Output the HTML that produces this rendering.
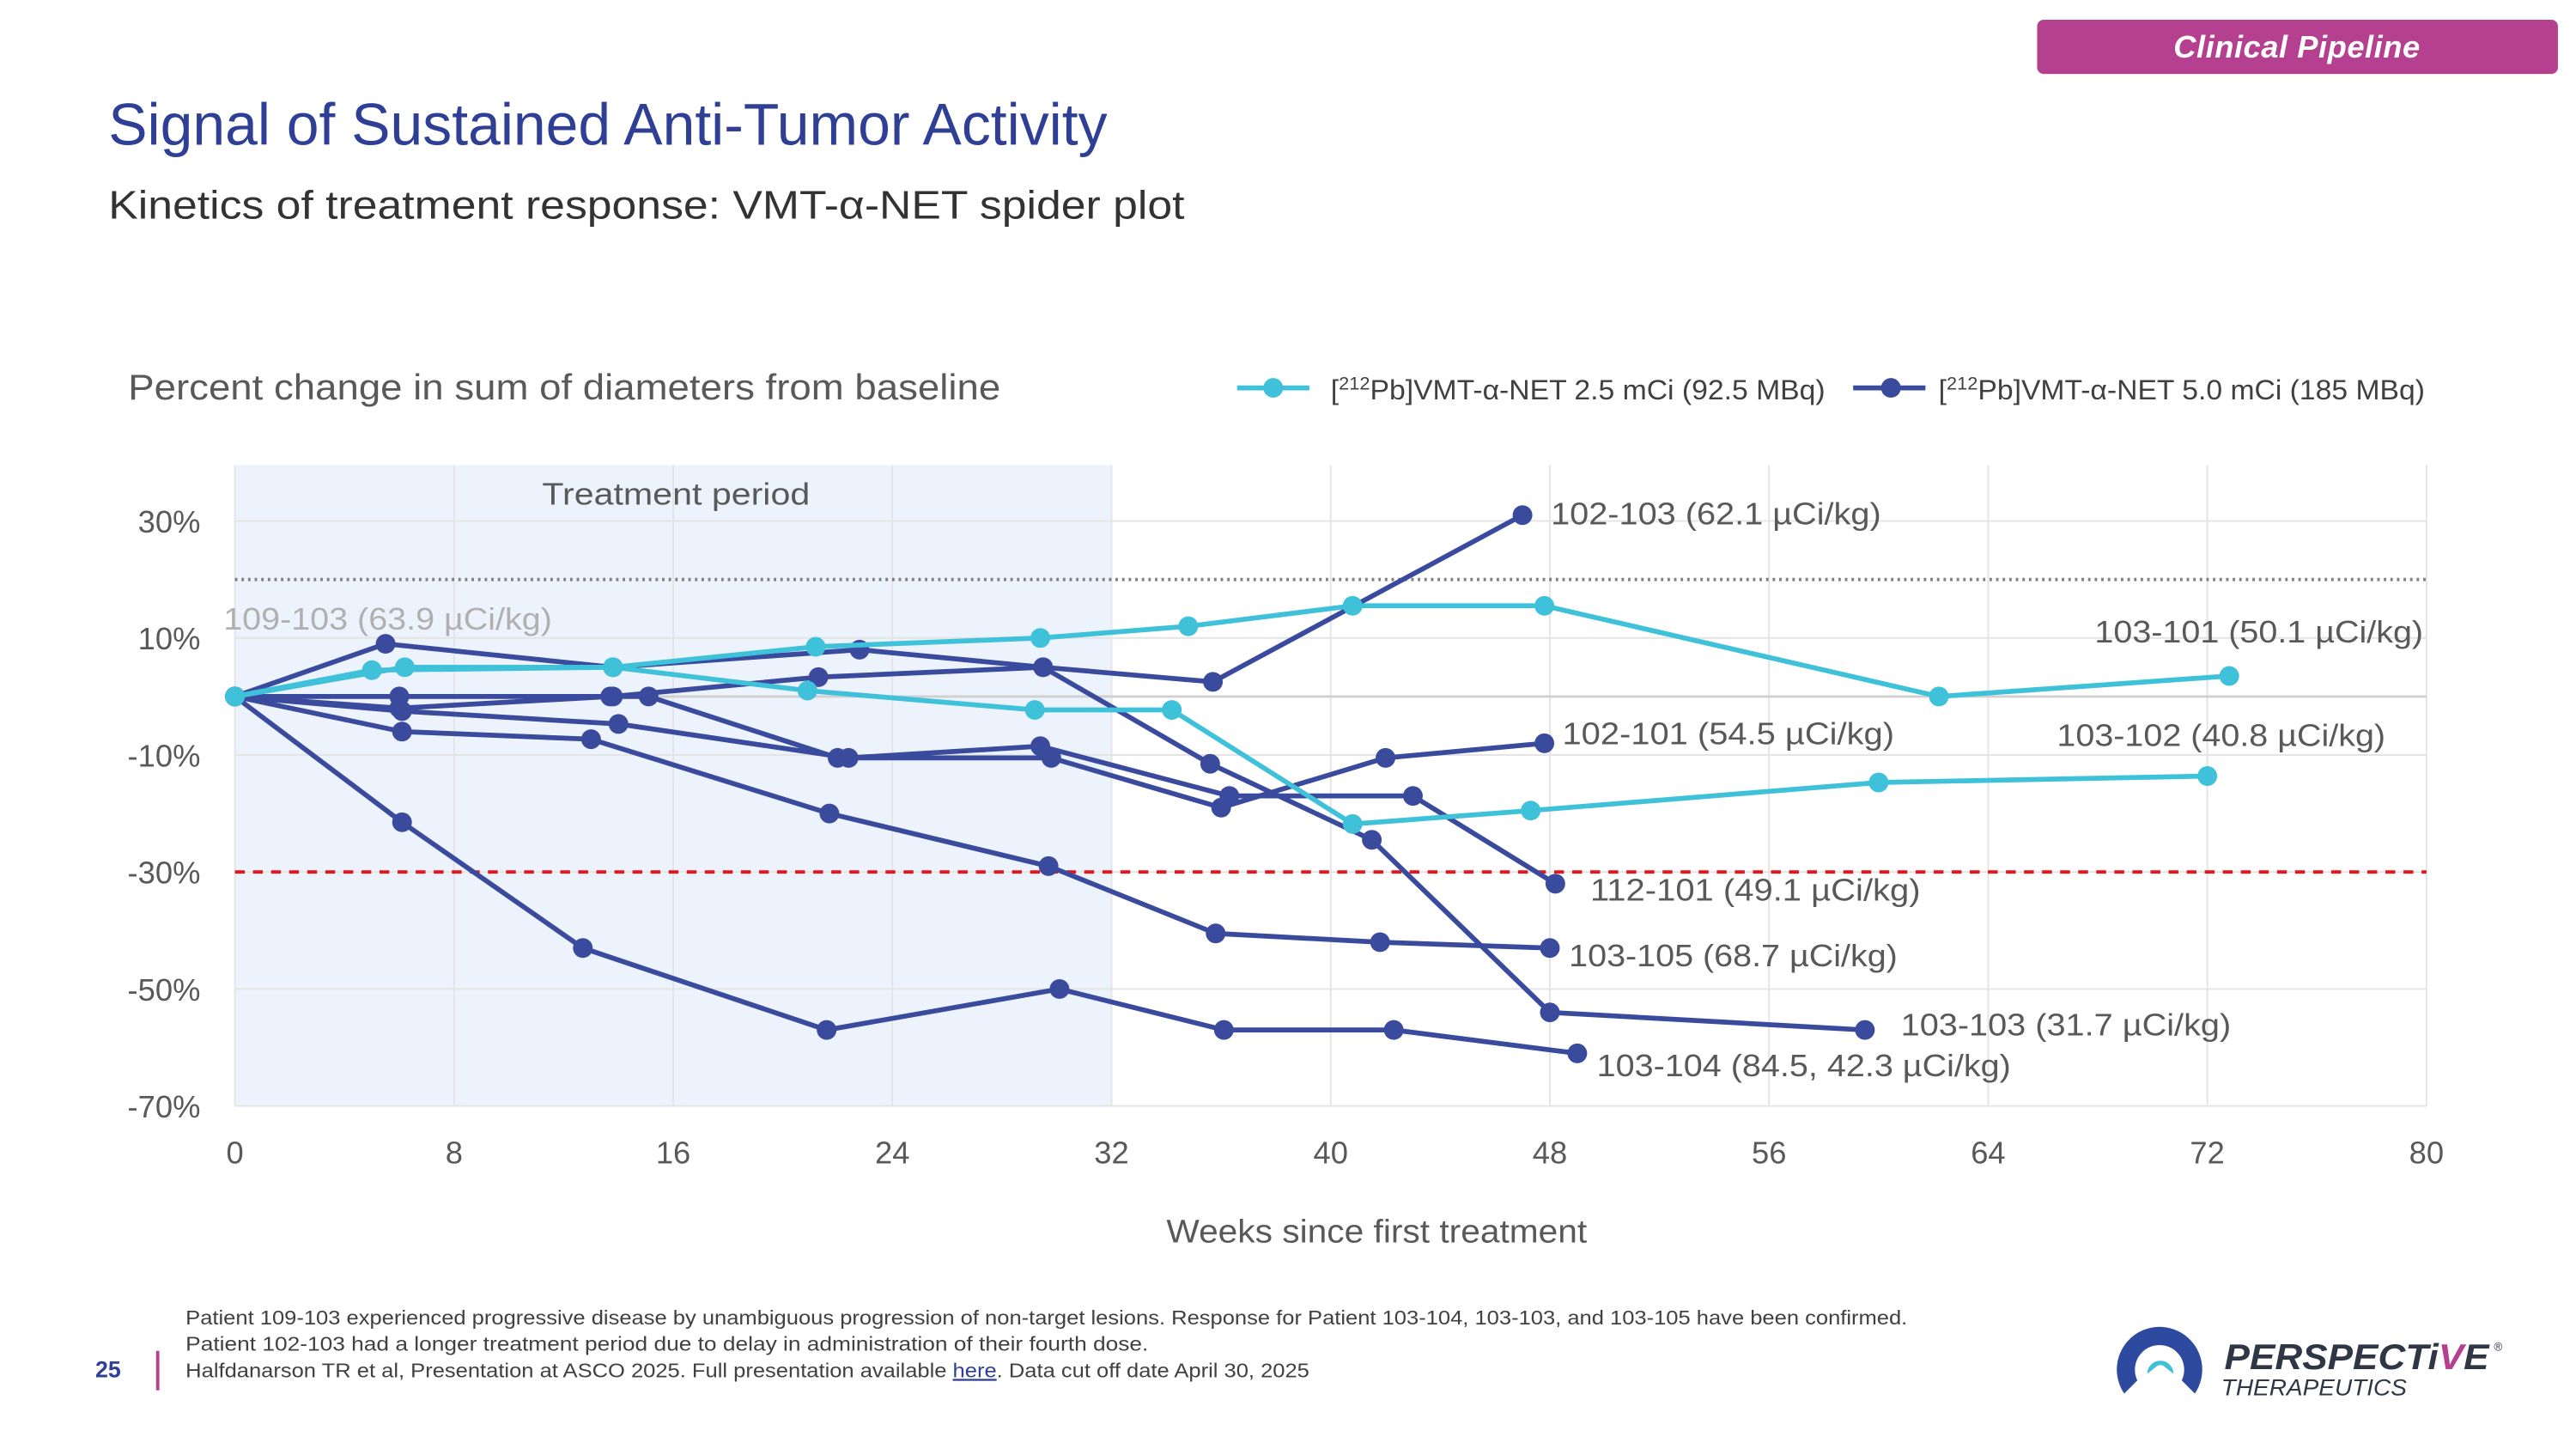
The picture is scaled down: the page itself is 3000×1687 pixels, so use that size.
<!DOCTYPE html>
<html><head><meta charset="utf-8"><style>
html,body{margin:0;padding:0;background:#fff;}
svg{display:block;font-family:"Liberation Sans",sans-serif;}
</style></head><body>
<svg id="c" width="3000" height="1687" viewBox="0 0 1568 881.7" xmlns="http://www.w3.org/2000/svg">
<rect x="1240" y="12" width="317" height="33" rx="4" fill="#b5408f"/>
<text x="1398" y="35" text-anchor="middle" fill="#fff" font-size="19" font-weight="bold" font-style="italic" textLength="150">Clinical Pipeline</text>
<text x="66" y="88" fill="#2e3f95" font-size="36" textLength="608" lengthAdjust="spacingAndGlyphs">Signal of Sustained Anti-Tumor Activity</text>
<text x="66" y="133" fill="#333" font-size="24" textLength="655" lengthAdjust="spacingAndGlyphs">Kinetics of treatment response: VMT-α-NET spider plot</text>
<text x="78" y="243" fill="#595959" font-size="22" textLength="531" lengthAdjust="spacingAndGlyphs">Percent change in sum of diameters from baseline</text>
<g>
<line x1="753" y1="236" x2="797" y2="236" stroke="#3fc1d9" stroke-width="3"/>
<circle cx="775" cy="236" r="6" fill="#3fc1d9"/>
<text x="810" y="243" fill="#404040" font-size="17" textLength="301" lengthAdjust="spacingAndGlyphs">[<tspan font-size="11" dy="-6">212</tspan><tspan dy="6">Pb]VMT-α-NET 2.5 mCi (92.5 MBq)</tspan></text>
<line x1="1128" y1="236" x2="1172" y2="236" stroke="#3a4a9c" stroke-width="3"/>
<circle cx="1151" cy="236" r="6" fill="#3a4a9c"/>
<text x="1180" y="243" fill="#404040" font-size="17" textLength="296" lengthAdjust="spacingAndGlyphs">[<tspan font-size="11" dy="-6">212</tspan><tspan dy="6">Pb]VMT-α-NET 5.0 mCi (185 MBq)</tspan></text>
</g>
<g id="plot"></g>
<text x="838" y="756" text-anchor="middle" fill="#595959" font-size="20" textLength="256" lengthAdjust="spacingAndGlyphs">Weeks since first treatment</text>
<g fill="#404040" font-size="12">
<text x="113" y="806" textLength="1048" lengthAdjust="spacingAndGlyphs">Patient 109-103 experienced progressive disease by unambiguous progression of non-target lesions. Response for Patient 103-104, 103-103, and 103-105 have been confirmed.</text>
<text x="113" y="822" textLength="586" lengthAdjust="spacingAndGlyphs">Patient 102-103 had a longer treatment period due to delay in administration of their fourth dose.</text>
<text x="113" y="838" textLength="684" lengthAdjust="spacingAndGlyphs">Halfdanarson TR et al, Presentation at ASCO 2025. Full presentation available <tspan fill="#2e3f95" text-decoration="underline">here</tspan>. Data cut off date April 30, 2025</text>
</g>
<text x="58" y="838" fill="#2e3f95" font-size="14" font-weight="bold">25</text>
<rect x="95" y="822" width="2" height="24" fill="#b5408f"/>
<g>
<path d="M1293 848 A26 26 0 1 1 1336 848 L1328 840 A15 15 0 1 0 1301 840 Z" fill="#2e4aa0"/>
<path d="M1307 836 A8 8 0 1 1 1323 836 L1318 832 A4 4 0 0 0 1312 832 Z" fill="#3fc1d9"/>
<text x="1354" y="833" fill="#2f3645" font-size="22" font-weight="bold" font-style="italic" textLength="161" lengthAdjust="spacingAndGlyphs">PERSPECTi<tspan fill="#b5408f">V</tspan>E</text>
<text x="1518" y="822" fill="#2f3645" font-size="7">®</text>
<text x="1352" y="849" fill="#2f3645" font-size="14" font-style="italic" textLength="113" lengthAdjust="spacingAndGlyphs">THERAPEUTICS</text>
</g>
</svg>
<script>
const xTicks = [0, 8, 16, 24, 32, 40, 48, 56, 64, 72, 80];
const yTicks = [30, 10, -10, -30, -50, -70];
const yTickLabels = ["30%", "10%", "-10%", "-30%", "-50%", "-70%"];
const treatmentEnd = 32;
const progressionLine = 20;
const responseLine = -30;
const s103_101_x = [0, 5, 13.8, 21.2, 29.4, 34.8, 40.8, 47.8, 62.2, 72.8];
const s103_101_y = [0, 4.5, 5, 8.5, 10, 12, 15.5, 15.5, 0, 3.5];
const s103_102_x = [0, 6.2, 13.8, 20.9, 29.2, 34.2, 40.8, 47.3, 60, 72];
const s103_102_y = [0, 5, 5, 1, -2.3, -2.3, -21.8, -19.5, -14.7, -13.6];
const s102_103_x = [0, 5.5, 13.8, 22.8, 29.5, 35.7, 47];
const s102_103_y = [0, 9, 5, 8, 5, 2.5, 31];
const s103_103_x = [0, 6, 13.8, 21.3, 29.5, 35.6, 41.5, 48, 59.5];
const s103_103_y = [0, 0, 0, 3.3, 5, -11.5, -24.5, -54, -57];
const s102_101_x = [0, 6, 13.7, 15.1, 22, 29.8, 36, 42, 47.8];
const s102_101_y = [0, -2, 0, 0, -10.5, -10.5, -19, -10.5, -8];
const s112_101_x = [0, 6.1, 14, 22.4, 29.4, 36.3, 43, 48.2];
const s112_101_y = [0, -2.5, -4.7, -10.5, -8.5, -17, -17, -32];
const s103_105_x = [0, 6.1, 13, 21.7, 29.7, 35.8, 41.8, 48];
const s103_105_y = [0, -6, -7.3, -20, -29, -40.5, -42, -43];
const s103_104_x = [0, 6.1, 12.7, 21.6, 30.1, 36.1, 42.3, 49];
const s103_104_y = [0, -21.5, -43, -57, -50, -57, -57, -61];
const seriesNames = ["103-101","103-102","102-103","103-103","102-101","112-101","103-105","103-104"];
const seriesX = [s103_101_x,s103_102_x,s102_103_x,s103_103_x,s102_101_x,s112_101_x,s103_105_x,s103_104_x];
const seriesY = [s103_101_y,s103_102_y,s102_103_y,s103_103_y,s102_101_y,s112_101_y,s103_105_y,s103_104_y];
const seriesDose = ["low","low","high","high","high","high","high","high"];
const labelText = ["103-101 (50.1 µCi/kg)","103-102 (40.8 µCi/kg)","102-103 (62.1 µCi/kg)","103-103 (31.7 µCi/kg)","102-101 (54.5 µCi/kg)","112-101 (49.1 µCi/kg)","103-105 (68.7 µCi/kg)","103-104 (84.5, 42.3 µCi/kg)"];
const labelX = [1475, 1452, 944, 1157, 951, 968, 955, 972];
const labelY = [391, 454, 319, 630, 453, 548, 588, 655];
const labelW = [200, 200, 201, 201, 202, 201, 200, 252];
const labelAnchor = ["end","end","start","start","start","start","start","start"];

const X0 = 143, X1 = 1477, Y0 = 673, Y1 = 317, PT = 283;
const xs = v => X0 + (v - 0) / 80 * (X1 - X0);
const ys = v => Y0 - (v + 70) / 100 * (Y0 - Y1);
const NS = "http://www.w3.org/2000/svg";
const g = document.getElementById("plot");
function mk(tag, attrs, parent) { const e = document.createElementNS(NS, tag); for (const k in attrs) e.setAttribute(k, attrs[k]); (parent || g).appendChild(e); return e; }

const shade = mk("rect", {x: xs(0), y: PT, width: xs(treatmentEnd) - xs(0), height: Y0 - PT, fill: "#edf3fd"});


xTicks.forEach(t => {
  const l = mk("line", {x1: xs(t), x2: xs(t), y1: PT, y2: Y0, stroke: "#e4e4e4", "stroke-width": 1});
  
  
  const tx = mk("text", {x: xs(t), y: 708, "text-anchor": "middle", fill: "#595959", "font-size": 19});
  tx.textContent = t;
  
  
});
yTicks.forEach((t, i) => {
  const l = mk("line", {x1: X0, x2: X1, y1: ys(t), y2: ys(t), stroke: "#e4e4e4", "stroke-width": 1});
  
  
  const tx = mk("text", {x: 122, y: ys(t) + 7, "text-anchor": "end", fill: "#595959", "font-size": 19});
  tx.textContent = yTickLabels[i];
  
  
});
const zl = mk("line", {x1: X0, x2: X1, y1: ys(0), y2: ys(0), stroke: "#d0d0d0", "stroke-width": 1.5});


const tp = mk("text", {x: 330, y: 307, fill: "#595959", "font-size": 19, textLength: 163, lengthAdjust: "spacingAndGlyphs"});
tp.textContent = "Treatment period";


const pd = mk("line", {x1: X0, x2: X1, y1: ys(progressionLine), y2: ys(progressionLine), stroke: "#808080", "stroke-width": 2, "stroke-dasharray": "1.5 2.5"});


const pr = mk("line", {x1: X0, x2: X1, y1: ys(responseLine), y2: ys(responseLine), stroke: "#e8141c", "stroke-width": 2, "stroke-dasharray": "6 5"});


const gl = mk("text", {x: 136, y: 383, fill: "#b0b0b0", "font-size": 19, textLength: 200, lengthAdjust: "spacingAndGlyphs"});
gl.textContent = "109-103 (63.9 µCi/kg)";



const order = [2,3,4,5,6,7,0,1];
order.forEach(i => {
  const col = seriesDose[i] === "low" ? "#3fc1d9" : "#3a4a9c";
  const sg = mk("g", {});
  
  
  const pts = seriesX[i].map((x, j) => xs(x) + "," + ys(seriesY[i][j])).join(" ");
  const pl = mk("polyline", {points: pts, fill: "none", stroke: col, "stroke-width": 3, "stroke-linejoin": "round"}, sg);
  
  
  seriesX[i].forEach((x, j) => {
    const c = mk("circle", {cx: xs(x), cy: ys(seriesY[i][j]), r: 6, fill: col}, sg);
    
    
  });
});
labelText.forEach((t, i) => {
  const tx = mk("text", {x: labelX[i], y: labelY[i], "text-anchor": labelAnchor[i], fill: "#595959", "font-size": 19, textLength: labelW[i], lengthAdjust: "spacingAndGlyphs"});
  tx.textContent = t;
  
  
});
</script>
</body></html>
